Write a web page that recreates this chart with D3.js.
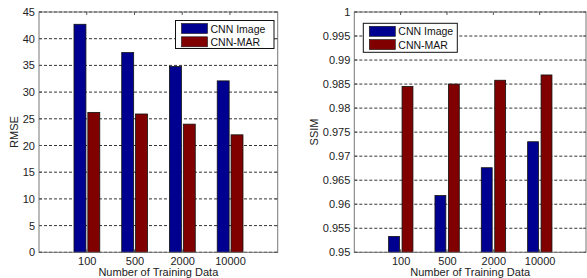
<!DOCTYPE html>
<html><head><meta charset="utf-8">
<script src="https://cdn.jsdelivr.net/npm/d3@7"></script>
<style>body{margin:0;background:#fff;} text{font-family:"Liberation Sans",Arial,sans-serif;}</style>
</head><body>
<svg id="c" width="587" height="278"></svg>
<script>
const categories = ["100","500","2000","10000"];
const seriesNames = ["CNN Image","CNN-MAR"];
const rmseCNNImage = [42.7, 37.4, 34.8, 32.1];
const rmseCNNMAR = [26.2, 25.9, 24.0, 22.0];
const ssimCNNImage = [0.9533, 0.9618, 0.9676, 0.9730];
const ssimCNNMAR = [0.9845, 0.9850, 0.9858, 0.9869];
const rmseTicks = [0,5,10,15,20,25,30,35,40,45];
const ssimTicks = [0.95,0.955,0.96,0.965,0.97,0.975,0.98,0.985,0.99,0.995,1];
const colors = ["#000090","#800000"];

const svg = d3.select("#c");

function panel(o){
  const g = svg.append("g");
  const x = d3.scaleLinear().domain([0,5]).range([o.left,o.right]);
  const y = d3.scaleLinear().domain(o.ydom).range([252.3,12]);
  // grid
  g.selectAll(".grid").data(o.ticks).enter().append("line")
    .attr("x1",o.left).attr("x2",o.right)
    .attr("y1",d=>y(d)).attr("y2",d=>y(d))
    .attr("stroke","#333").attr("stroke-width",1).attr("stroke-dasharray","3,2");
  // bars
  const series=[o.s1,o.s2];
  const offs=[-0.142,0.148];
  const bw=o.bw;
  series.forEach((s,si)=>{
    g.selectAll(".b"+si).data(s).enter().append("rect")
      .attr("x",(d,i)=>x(i+1+offs[si]-bw/2))
      .attr("width",x(bw)-x(0))
      .attr("y",d=>y(d))
      .attr("height",d=>y(o.ydom[0])-y(d))
      .attr("fill",colors[si]).attr("stroke","#111").attr("stroke-width",0.8);
  });
  // box
  g.append("rect").attr("x",o.left).attr("y",12).attr("width",o.right-o.left).attr("height",252.3-12)
    .attr("fill","none").attr("stroke","#777").attr("stroke-width",1);
  // axes
  const ax = d3.axisLeft(y).tickValues(o.ticks).tickSize(0).tickPadding(4).tickFormat(d=>String(+d.toFixed(3)));
  const ga = g.append("g").attr("transform",`translate(${o.left},0)`).call(ax);
  ga.select(".domain").remove();
  ga.selectAll("text").attr("font-size",11).attr("fill","#222").attr("font-family","Liberation Sans, Arial, sans-serif");
  const bx = d3.axisBottom(x).tickValues([1,2,3,4]).tickSize(0).tickPadding(5).tickFormat((d)=>categories[d-1]);
  const gb = g.append("g").attr("transform",`translate(0,252.3)`).call(bx);
  gb.select(".domain").remove();
  gb.selectAll("text").attr("font-size",11).attr("fill","#222").attr("font-family","Liberation Sans, Arial, sans-serif");
  // inward ticks
  const tl=3;
  o.ticks.forEach(t=>{
    g.append("line").attr("x1",o.left).attr("x2",o.left+tl).attr("y1",y(t)).attr("y2",y(t)).attr("stroke","#555");
    g.append("line").attr("x1",o.right).attr("x2",o.right-tl).attr("y1",y(t)).attr("y2",y(t)).attr("stroke","#555");
  });
  [1,2,3,4].forEach(t=>{
    g.append("line").attr("x1",x(t)).attr("x2",x(t)).attr("y1",252.3).attr("y2",252.3-tl).attr("stroke","#555");
    g.append("line").attr("x1",x(t)).attr("x2",x(t)).attr("y1",12).attr("y2",12+tl).attr("stroke","#555");
  });
  // labels
  g.append("text").attr("x",(o.left+o.right)/2).attr("y",276).attr("text-anchor","middle")
    .attr("font-size",11).attr("fill","#222").text("Number of Training Data");
  g.append("text").attr("transform",`translate(${o.ylx},132) rotate(-90)`).attr("text-anchor","middle")
    .attr("font-size",11).attr("fill","#222").text(o.ylabel);
  // legend
  const L=o.leg;
  g.append("rect").attr("x",L.x).attr("y",L.y).attr("width",L.w).attr("height",L.h)
    .attr("fill","#fff").attr("stroke","#111").attr("stroke-width",1);
  seriesNames.forEach((n,i)=>{
    g.append("rect").attr("x",L.x+6).attr("y",L.y+3+i*13.3).attr("width",26).attr("height",10)
      .attr("fill",colors[i]).attr("stroke","#111").attr("stroke-width",0.6);
    g.append("text").attr("x",L.x+35).attr("y",L.y+12+i*13.3).attr("font-size",10.5).attr("fill","#111").text(n);
  });
}

panel({left:39,right:277.7,ydom:[0,45],ticks:rmseTicks,s1:rmseCNNImage,s2:rmseCNNMAR,bw:0.25,ylabel:"RMSE",ylx:18,
  leg:{x:175.5,y:20.5,w:98.5,h:28}});
panel({left:354.3,right:586,ydom:[0.95,1],ticks:ssimTicks,s1:ssimCNNImage,s2:ssimCNNMAR,bw:0.235,ylabel:"SSIM",ylx:318,
  leg:{x:363.3,y:23.3,w:94,h:29}});
</script>
</body></html>
